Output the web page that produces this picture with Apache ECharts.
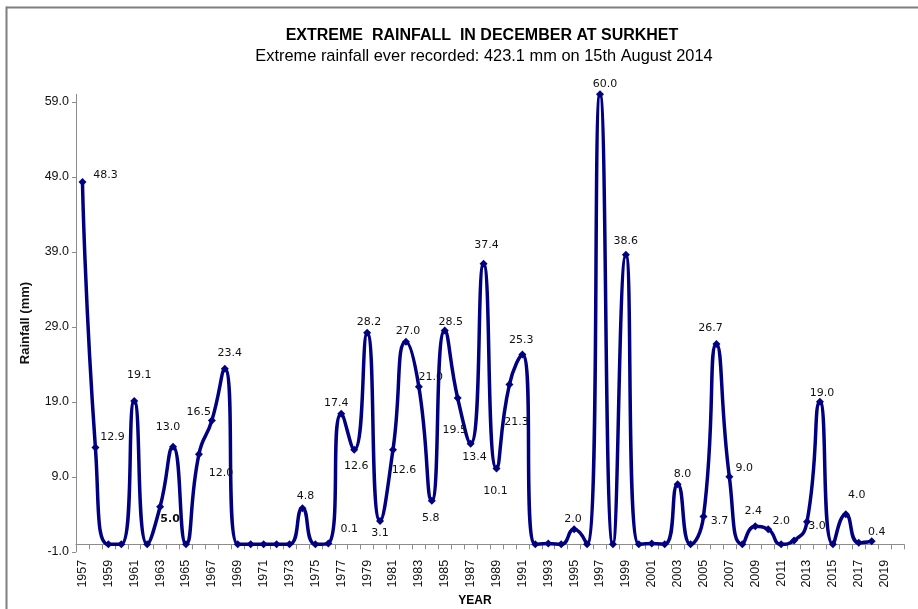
<!DOCTYPE html>
<html>
<head>
<meta charset="utf-8">
<script src="https://cdn.jsdelivr.net/npm/echarts@6/dist/echarts.min.js"></script>
<style>
html,body{margin:0;padding:0;background:#fff;}
#chart{width:918px;height:609px;}
</style>
</head>
<body>
<div id="chart"></div>
<script>
// ---- data ----
var years = ['1957','1958','1959','1960','1961','1962','1963','1964','1965','1966',
  '1967','1968','1969','1970','1971','1972','1973','1974','1975','1976',
  '1977','1978','1979','1980','1981','1982','1983','1984','1985','1986',
  '1987','1988','1989','1990','1991','1992','1993','1994','1995','1996',
  '1997','1998','1999','2000','2001','2002','2003','2004','2005','2006',
  '2007','2008','2009','2010','2011','2012','2013','2014','2015','2016',
  '2017','2018','2019','2020'];
var rainfall = [48.3, 12.9, 0, 0, 19.1, 0, 5.0, 13.0, 0, 12.0,
  16.5, 23.4, 0, 0, 0, 0, 0, 4.8, 0, 0.1,
  17.4, 12.6, 28.2, 3.1, 12.6, 27.0, 21.0, 5.8, 28.5, 19.5,
  13.4, 37.4, 10.1, 21.3, 25.3, 0, 0.1, 0, 2.0, 0,
  60.0, 0, 38.6, 0, 0.1, 0, 8.0, 0, 3.7, 26.7,
  9.0, 0, 2.4, 2.0, 0, 0.5, 3.0, 19.0, 0, 4.0,
  0.2, 0.4, null, null];
var yTickValues = [-1, 9, 19, 29, 39, 49, 59];
var titleText = 'EXTREME  RAINFALL  IN DECEMBER AT SURKHET';
var subtitleText = 'Extreme rainfall ever recorded: 423.1 mm on 15th August 2014';
var yAxisTitle = 'Rainfall (mm)';
var xAxisTitle = 'YEAR';

// ---- label placement (style only: offsets of value labels from their points) ----
var labelOffsets = {
  '1957':[23,-7], '1958':[17,-10], '1961':[5,-26], '1963':[10,12], '1964':[-5,-20],
  '1966':[22,19], '1967':[-13,-8], '1968':[5,-16], '1974':[3,-12], '1976':[21,-14],
  '1977':[-5,-11], '1978':[2,16], '1979':[2,-11], '1980':[0,12], '1981':[11,20],
  '1982':[2,-11], '1983':[12,-10], '1984':[-1,17], '1985':[6,-8], '1986':[-3,32],
  '1987':[4,13], '1988':[3,-19], '1989':[-1,23], '1990':[7,38], '1991':[-1,-14],
  '1995':[-1,-10], '1997':[5,-10], '1999':[0,-14], '2003':[5,-10], '2005':[16,5],
  '2006':[-6,-16], '2007':[15,-9], '2009':[-2,-15], '2010':[13,-8], '2013':[10,4],
  '2014':[2,-9], '2016':[11,-19], '2018':[5,-9]
};
var boldLabels = {'1963': true};

var seriesData = years.map(function (y, i) {
  var v = rainfall[i];
  var item = { value: v };
  if (labelOffsets[y] && v !== null) {
    item.label = {
      show: true,
      position: 'inside',
      offset: labelOffsets[y],
      formatter: function (p) { return Number(p.value).toFixed(1); },
      fontWeight: boldLabels[y] ? 'bold' : 'normal'
    };
  }
  return item;
});

var chart = echarts.init(document.getElementById('chart'), null, {renderer: 'canvas'});
var option = {
  backgroundColor: '#ffffff',
  animation: false,
  grid: { left: 76, right: 14, top: 94.3, bottom: 57.2 },
  xAxis: {
    type: 'category',
    data: years,
    boundaryGap: true,
    axisLine: { onZero: true, lineStyle: { color: '#8c8c8c', width: 1 } },
    axisTick: { show: true, interval: 0, length: 5, lineStyle: { color: '#8c8c8c' } },
    axisLabel: {
      interval: 1, rotate: 90, margin: 8,
      fontFamily: 'Liberation Sans, Arial, sans-serif', fontSize: 12.5, color: '#111'
    },
    splitLine: { show: false }
  },
  yAxis: {
    type: 'value',
    min: -1, max: 60,
    name: yAxisTitle,
    nameLocation: 'middle',
    nameGap: 44,
    nameTextStyle: { fontFamily: 'Liberation Sans, Arial, sans-serif', fontSize: 13, fontWeight: 'bold', color: '#111' },
    axisLine: { show: true, lineStyle: { color: '#8c8c8c', width: 1 } },
    axisTick: { show: true, length: 4, customValues: yTickValues, lineStyle: { color: '#8c8c8c' } },
    axisLabel: {
      customValues: yTickValues,
      margin: 7,
      formatter: function (v) { return Number(v).toFixed(1); },
      fontFamily: 'Liberation Sans, Arial, sans-serif', fontSize: 12.5, color: '#111'
    },
    splitLine: { show: false }
  },
  series: [{
    type: 'line',
    data: seriesData,
    smooth: 0.55,
    connectNulls: false,
    symbol: 'diamond',
    symbolSize: 8,
    showAllSymbol: true,
    lineStyle: { color: '#000080', width: 3.5 },
    itemStyle: { color: '#000080' },
    label: { fontFamily: 'DejaVu Sans, sans-serif', fontSize: 11, color: '#111' },
    emphasis: { disabled: true }
  }],
  graphic: [
    { type: 'line', shape: { x1: 6.5, y1: 7.5, x2: 918, y2: 7.5 }, style: { stroke: '#7f7f7f', lineWidth: 2 }, silent: true },
    { type: 'line', shape: { x1: 6.5, y1: 6.5, x2: 6.5, y2: 609 }, style: { stroke: '#7f7f7f', lineWidth: 2 }, silent: true },
    { type: 'text', x: 482, y: 36, style: { text: titleText, textAlign: 'center', textVerticalAlign: 'middle',
      font: 'bold 16px "Liberation Sans", Arial, sans-serif', fill: '#000' }, silent: true },
    { type: 'text', x: 484, y: 56, style: { text: subtitleText, textAlign: 'center', textVerticalAlign: 'middle',
      font: '16.4px "Liberation Sans", Arial, sans-serif', fill: '#000' }, silent: true },
    { type: 'text', x: 475, y: 601, style: { text: xAxisTitle, textAlign: 'center', textVerticalAlign: 'middle',
      font: 'bold 12px "Liberation Sans", Arial, sans-serif', fill: '#000' }, silent: true }
  ]
};
chart.setOption(option);
</script>
</body>
</html>
